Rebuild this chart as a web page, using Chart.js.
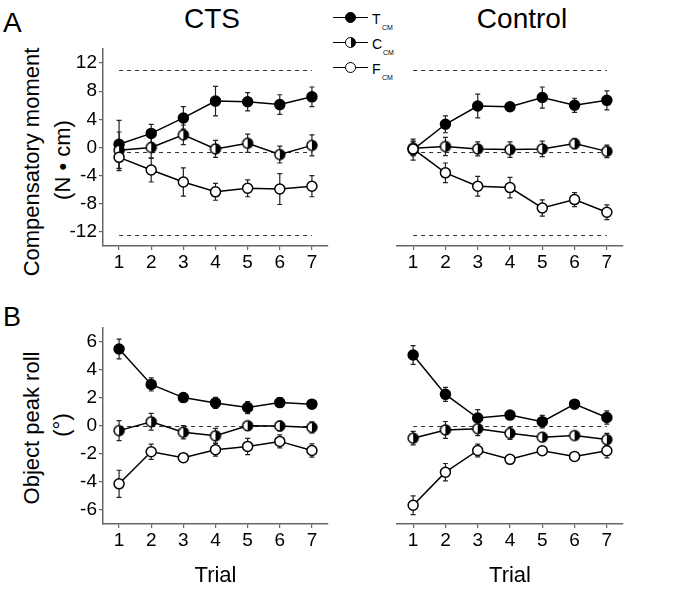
<!DOCTYPE html>
<html><head><meta charset="utf-8">
<script src="https://cdn.jsdelivr.net/npm/chart.js@4"></script>
<style>
body{margin:0;background:#fff;width:685px;height:599px;position:relative;overflow:hidden;font-family:"Liberation Sans",Arial,sans-serif;color:#000}
canvas{position:absolute}
.lbl{position:absolute;white-space:nowrap;line-height:1}
.rot{position:absolute;white-space:nowrap;line-height:1;transform:translate(-50%,-50%) rotate(-90deg)}
.lg-line{position:absolute;height:0;border-top:1.5px solid #000;width:35px;left:333px}
.lg-mk{position:absolute;width:9px;height:9px;border:1.5px solid #000;border-radius:50%;left:345px}
</style></head><body>
<div class="lbl" style="left:3px;top:9px;font-size:28px">A</div>
<div class="lbl" style="left:3px;top:304px;font-size:27px">B</div>
<div class="lbl" style="left:212px;top:5px;font-size:28px;transform:translateX(-50%)">CTS</div>
<div class="lbl" style="left:522px;top:5px;font-size:28px;transform:translateX(-50%)">Control</div>
<div class="rot" style="left:32px;top:162px;font-size:22px">Compensatory moment</div>
<div class="rot" style="left:63px;top:160px;font-size:22px">(N • cm)</div>
<div class="rot" style="left:32px;top:428px;font-size:22px">Object peak roll</div>
<div class="rot" style="left:62px;top:425px;font-size:22px">(°)</div>

<div class="lg-line" style="top:17px"></div>
<div class="lg-mk" style="top:12px;background:#000"></div>
<div class="lg-line" style="top:42px"></div>
<div class="lg-mk" style="top:37px;background:linear-gradient(90deg,#fff 50%,#000 50%)"></div>
<div class="lg-line" style="top:67px"></div>
<div class="lg-mk" style="top:62px;background:#fff"></div>
<div class="lbl" style="left:372px;top:12px;font-size:14px">T</div><div class="lbl" style="left:382px;top:24px;font-size:7px">CM</div>
<div class="lbl" style="left:372px;top:37px;font-size:14px">C</div><div class="lbl" style="left:383px;top:49px;font-size:7px">CM</div>
<div class="lbl" style="left:372px;top:62px;font-size:14px">F</div><div class="lbl" style="left:382px;top:74px;font-size:7px">CM</div>

<canvas id="aCts" width="340" height="300" style="left:0;top:0"></canvas>
<canvas id="aCon" width="345" height="300" style="left:340px;top:0"></canvas>
<canvas id="bCts" width="340" height="299" style="left:0;top:300px"></canvas>
<canvas id="bCon" width="345" height="299" style="left:340px;top:300px"></canvas>

<script>
// ---- data ----
const trials = ['1','2','3','4','5','6','7'];
const seriesNames = ['T_CM','C_CM','F_CM'];

const ticksA = [-12,-8,-4,0,4,8,12];
const ticksB = [-6,-4,-2,0,2,4,6];
const refLinesA = [11, -0.7, -12.4];
const refLinesB = [0];

// Panel A – compensatory moment, CTS
const aCtsT = [0.45, 2.0, 4.2, 6.6, 6.5, 6.1, 7.2];
const aCtsTErr = [3.4, 1.3, 1.6, 2.1, 1.3, 1.4, 1.4];
const aCtsC = [-0.4, 0.0, 1.8, -0.2, 0.6, -1.0, 0.3];
const aCtsCErr = [2.6, 1.5, 1.4, 1.2, 1.3, 1.2, 1.5];
const aCtsF = [-1.4, -3.2, -4.9, -6.3, -5.8, -5.9, -5.5];
const aCtsFErr = [1.9, 1.7, 2.0, 1.2, 1.2, 2.2, 1.5];

// Panel A – compensatory moment, Control
const aConT = [-0.3, 3.3, 5.9, 5.8, 7.1, 6.0, 6.7];
const aConTErr = [1.5, 1.2, 1.7, 0.5, 1.5, 1.0, 1.35];
const aConC = [-0.1, 0.15, -0.2, -0.3, -0.2, 0.55, -0.55];
const aConCErr = [1.0, 1.3, 1.0, 1.1, 1.1, 0.7, 0.9];
const aConF = [-0.2, -3.6, -5.5, -5.7, -8.6, -7.4, -9.2];
const aConFErr = [1.0, 1.4, 1.4, 1.45, 1.15, 1.0, 1.05];

// Panel B – object peak roll, CTS
const bCtsT = [5.5, 2.97, 2.03, 1.65, 1.32, 1.67, 1.56];
const bCtsTErr = [0.7, 0.47, 0.3, 0.4, 0.43, 0.35, 0.2];
const bCtsC = [-0.33, 0.3, -0.45, -0.7, 0.02, 0.0, -0.1];
const bCtsCErr = [0.72, 0.6, 0.47, 0.53, 0.3, 0.35, 0.4];
const bCtsF = [-4.13, -1.84, -2.26, -1.7, -1.46, -1.1, -1.75];
const bCtsFErr = [0.97, 0.55, 0.2, 0.45, 0.58, 0.46, 0.47];

// Panel B – object peak roll, Control
const bConT = [5.07, 2.26, 0.57, 0.78, 0.31, 1.56, 0.61];
const bConTErr = [0.67, 0.5, 0.6, 0.3, 0.45, 0.2, 0.47];
const bConC = [-0.87, -0.28, -0.19, -0.52, -0.8, -0.68, -0.97];
const bConCErr = [0.48, 0.6, 0.5, 0.43, 0.3, 0.25, 0.45];
const bConF = [-5.66, -3.3, -1.75, -2.38, -1.77, -2.17, -1.77];
const bConFErr = [0.67, 0.62, 0.46, 0.3, 0.2, 0.15, 0.5];

// ---- rendering ----
const FONT = '"Liberation Sans", Arial, sans-serif';
const AXIS = '#666';

function halfMarker(r, bw){
  const s = 2*Math.ceil(r + bw) + 2;
  const c = document.createElement('canvas');
  c.width = c.height = s;
  const g = c.getContext('2d'); const m = s/2;
  g.beginPath(); g.arc(m,m,r,Math.PI/2,Math.PI*1.5); g.closePath(); g.fillStyle='#fff'; g.fill();
  g.beginPath(); g.arc(m,m,r,-Math.PI/2,Math.PI/2); g.closePath(); g.fillStyle='#000'; g.fill();
  g.beginPath(); g.arc(m,m,r,0,Math.PI*2); g.lineWidth=bw; g.strokeStyle='#000'; g.stroke();
  return c;
}
const halfImg = halfMarker(5, 1.5);

const errorBars = {
  id: 'errorBars',
  beforeDatasetsDraw(chart, args, opts){
    const {ctx, scales:{x, y}} = chart;
    ctx.save();
    ctx.strokeStyle = '#333'; ctx.lineWidth = 1; ctx.setLineDash([4,4]);
    const x0 = x.getPixelForValue(0), x1 = x.getPixelForValue(trials.length-1);
    (opts.refs||[]).forEach(v=>{
      const py = Math.round(y.getPixelForValue(v)) + 0.5;
      ctx.beginPath(); ctx.moveTo(x0,py); ctx.lineTo(x1,py); ctx.stroke();
    });
    ctx.setLineDash([]);
    ctx.strokeStyle = '#222'; ctx.lineWidth = 1.2;
    chart.data.datasets.forEach(ds=>{
      if(!ds.errors) return;
      ds.data.forEach((v,j)=>{
        const e = ds.errors[j];
        const px = x.getPixelForValue(j);
        const yt = y.getPixelForValue(v+e), yb = y.getPixelForValue(v-e);
        ctx.beginPath();
        ctx.moveTo(px,yt); ctx.lineTo(px,yb);
        ctx.moveTo(px-2.5,yt); ctx.lineTo(px+2.5,yt);
        ctx.moveTo(px-2.5,yb); ctx.lineTo(px+2.5,yb);
        ctx.stroke();
      });
    });
    ctx.restore();
  }
};

function ds(label, data, errors, style, order){
  const base = {label, data, errors, order, borderColor:'#000', borderWidth:1.5, tension:0,
    pointRadius:5, pointHoverRadius:5, pointBorderWidth:1.5, pointBorderColor:'#000'};
  if (style === 'filled') { base.pointBackgroundColor = '#000'; }
  else if (style === 'open') { base.pointBackgroundColor = '#fff'; }
  else { base.pointStyle = halfImg; base.pointBackgroundColor = '#fff'; }
  return base;
}

function panel(id, cfg){
  new Chart(document.getElementById(id), {
    type: 'line',
    data: {
      labels: trials,
      datasets: [
        ds(seriesNames[0], cfg.T, cfg.Te, 'filled', 3),
        ds(seriesNames[1], cfg.C, cfg.Ce, 'half', 2),
        ds(seriesNames[2], cfg.F, cfg.Fe, 'open', 1)
      ]
    },
    options: {
      responsive:false, animation:false, devicePixelRatio:1,
      layout:{padding:{left:cfg.padL, right:cfg.padR, top:cfg.padT, bottom:0}},
      plugins:{legend:{display:false}, tooltip:{enabled:false}, errorBars:{refs:cfg.refs}},
      scales:{
        x:{type:'category', offset:true,
          grid:{drawOnChartArea:false, offset:false, tickLength:4, color:AXIS, lineWidth:1.2},
          border:{color:AXIS, width:1.5},
          ticks:{font:{size:19, family:FONT}, color:'#000', padding:1, maxRotation:0, autoSkip:false},
          title:{display:cfg.xTitle, text:'Trial', color:'#000', font:{size:22, family:FONT}, padding:{top:0,bottom:10}},
          afterFit:s=>{ s.height = cfg.xH; }
        },
        y:{display:cfg.showY, min:cfg.min, max:cfg.max,
          afterBuildTicks:s=>{ s.ticks = cfg.ticks.map(v=>({value:v})); },
          grid:{drawOnChartArea:false, tickLength:4, color:AXIS, lineWidth:1.2},
          border:{color:AXIS, width:1.5},
          ticks:{font:{size:19, family:FONT}, color:'#000', padding:2},
          afterFit:s=>{ s.width = cfg.showY ? 103 : 0; }
        }
      }
    },
    plugins:[errorBars]
  });
}

panel('aCts', {T:aCtsT, Te:aCtsTErr, C:aCtsC, Ce:aCtsCErr, F:aCtsF, Fe:aCtsFErr,
  min:-14, max:14, ticks:ticksA, refs:refLinesA, showY:true, xTitle:false,
  padL:0, padR:12, padT:49, xH:54});
panel('aCon', {T:aConT, Te:aConTErr, C:aConC, Ce:aConCErr, F:aConF, Fe:aConFErr,
  min:-14, max:14, ticks:ticksA, refs:refLinesA, showY:false, xTitle:false,
  padL:57, padR:62, padT:49, xH:54});
panel('bCts', {T:bCtsT, Te:bCtsTErr, C:bCtsC, Ce:bCtsCErr, F:bCtsF, Fe:bCtsFErr,
  min:-7, max:7, ticks:ticksB, refs:refLinesB, showY:true, xTitle:true,
  padL:0, padR:12, padT:28, xH:75});
panel('bCon', {T:bConT, Te:bConTErr, C:bConC, Ce:bConCErr, F:bConF, Fe:bConFErr,
  min:-7, max:7, ticks:ticksB, refs:refLinesB, showY:false, xTitle:true,
  padL:57, padR:62, padT:28, xH:75});
</script>
</body></html>
